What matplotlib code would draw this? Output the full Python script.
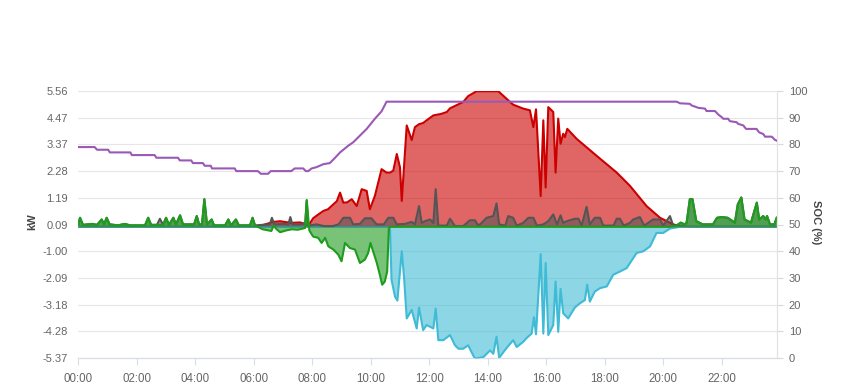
import matplotlib
matplotlib.use("Agg")
import matplotlib.pyplot as plt

# ---------------- data (hours of day, kW / %) ----------------
hours_ticks = [0, 2, 4, 6, 8, 10, 12, 14, 16, 18, 20, 22]
hour_labels = ["00:00", "02:00", "04:00", "06:00", "08:00", "10:00",
               "12:00", "14:00", "16:00", "18:00", "20:00", "22:00"]
kw_ticks = [5.56, 4.47, 3.37, 2.28, 1.19, 0.09, -1.00, -2.09, -3.18, -4.28, -5.37]
soc_ticks = [0, 10, 20, 30, 40, 50, 60, 70, 80, 90, 100]

# Solar production (red)
solar_t = [0, 6.08, 6.39, 6.66, 6.90, 7.27, 7.58, 7.75, 7.86, 8.03, 8.20, 8.38, 8.54, 8.72,
           8.84, 8.95, 9.06, 9.19, 9.35, 9.52, 9.69, 9.86, 9.97, 10.14, 10.37, 10.54, 10.66,
           10.77, 10.89, 11.00, 11.06, 11.23, 11.40, 11.51, 11.65, 11.79, 11.90, 12.14, 12.40,
           12.60, 12.71, 13.16, 13.33, 13.62, 14.36, 14.70, 14.87, 15.21, 15.44, 15.56, 15.65,
           15.81, 15.90, 15.98, 16.07, 16.24, 16.32, 16.41, 16.49, 16.58, 16.64, 16.72, 17.04,
           17.72, 18.41, 18.86, 19.43, 19.89, 20.34, 20.57, 20.91, 23.88]
solar_v = [0, 0, 0.1, 0.2, 0.23, 0.16, 0.18, 0.12, 0.03, 0.35, 0.5, 0.65, 0.72, 0.92,
           1.05, 1.4, 0.99, 1.0, 1.13, 0.85, 1.54, 1.47, 0.72, 1.26, 2.36, 2.22, 2.22,
           2.3, 2.98, 2.43, 1.06, 4.15, 3.55, 4.08, 4.2, 4.25, 4.35, 4.56, 4.62,
           4.7, 4.85, 5.11, 5.35, 5.55, 5.55, 5.18, 5.0, 4.84, 4.77, 4.08, 4.81,
           1.26, 4.36, 1.61, 4.9, 4.7, 2.22, 4.43, 3.4, 3.81, 3.67, 4.01, 3.6,
           2.91, 2.22, 1.68, 0.85, 0.37, 0.1, 0.03, 0, 0]

# Battery (cyan, negative = charging)
batt_t = [0, 10.62, 10.66, 10.71, 10.83, 10.91, 11.06, 11.14, 11.23, 11.40, 11.57, 11.65,
          11.79, 11.91, 12.14, 12.22, 12.31, 12.48, 12.71, 12.88, 13.00, 13.16, 13.33, 13.56,
          13.85, 14.08, 14.19, 14.30, 14.39, 14.65, 14.87, 14.99, 15.21, 15.33, 15.50, 15.58,
          15.65, 15.81, 15.90, 15.98, 16.07, 16.24, 16.32, 16.41, 16.49, 16.58, 16.75, 16.98,
          17.15, 17.32, 17.40, 17.49, 17.66, 17.84, 18.07, 18.29, 18.52, 18.75, 19.09, 19.32,
          19.55, 19.77, 20.00, 20.23, 20.57, 23.88]
batt_v = [0, 0, -0.1, -2.17, -2.86, -3.02, -1.0, -2.1, -3.75, -3.4, -4.16, -3.31,
          -4.23, -4.02, -4.16, -3.35, -4.64, -4.64, -4.43, -4.85, -4.99, -4.99, -4.85, -5.4,
          -5.33, -5.06, -5.2, -4.5, -5.36, -4.95, -4.64, -4.92, -4.71, -4.55, -4.37, -3.7,
          -4.4, -1.12, -4.37, -1.48, -4.43, -4.02, -2.24, -4.3, -2.54, -3.54, -3.75, -3.3,
          -3.13, -3.0, -2.37, -3.06, -2.65, -2.51, -2.44, -1.96, -1.83, -1.69, -1.07, -1.0,
          -0.8, -0.25, -0.25, -0.07, 0, 0]

# House load (grey)
load_t = [0, 0.06, 0.16, 0.47, 0.64, 0.80, 0.88, 0.97, 1.07, 1.36, 1.59, 1.77, 2.28, 2.39,
          2.49, 2.69, 2.79, 2.90, 3.00, 3.10, 3.25, 3.34, 3.48, 3.58, 3.96, 4.05, 4.13, 4.23,
          4.31, 4.40, 4.56, 4.64, 5.02, 5.13, 5.22, 5.39, 5.49, 5.87, 5.96, 6.04,
          6.30, 6.55, 6.62, 6.70, 7.00, 7.18, 7.25, 7.32, 7.60, 7.76, 7.81, 7.86, 8.15, 8.40,
          8.70, 8.90, 9.06, 9.29, 9.40, 9.63, 9.80, 10.02, 10.20, 10.45, 10.60, 10.77, 10.89,
          11.17, 11.40, 11.51, 11.65, 11.74, 11.85, 12.03, 12.14, 12.22, 12.31, 12.60, 12.71,
          12.88, 13.16, 13.39, 13.56, 13.68, 13.79, 13.96, 14.19, 14.30, 14.39, 14.60, 14.70,
          14.87, 14.99, 15.21, 15.39, 15.56, 15.68, 15.90, 16.07, 16.24, 16.37, 16.49, 16.58,
          16.70, 16.98, 17.10, 17.21, 17.38, 17.49, 17.66, 17.84, 17.95, 18.30, 18.41, 18.52,
          18.65, 18.86, 18.97, 19.20, 19.35, 19.65, 19.89, 20.00, 20.23, 20.34,
          20.45, 20.60, 20.73, 20.80, 20.91, 21.00, 21.13, 21.35, 21.70, 21.84, 22.00, 22.20,
          22.45, 22.55, 22.67, 22.78, 23.00, 23.20, 23.28, 23.42, 23.50, 23.55, 23.65, 23.80,
          23.88]
load_v = [0.1, 0.37, 0.08, 0.12, 0.08, 0.3, 0.1, 0.37, 0.1, 0.06, 0.12, 0.06, 0.06, 0.37,
          0.08, 0.08, 0.33, 0.08, 0.37, 0.08, 0.37, 0.1, 0.47, 0.1, 0.1, 0.44, 0.1, 0.1,
          1.13, 0.1, 0.3, 0.06, 0.06, 0.3, 0.06, 0.3, 0.06, 0.06, 0.37, 0.06,
          0.08, 0.1, 0.37, 0.1, 0.12, 0.1, 0.4, 0.1, 0.1, 0.15, 1.06, 0.05, 0.1, 0.03,
          0.03, 0.1, 0.37, 0.37, 0.1, 0.12, 0.35, 0.35, 0.1, 0.1, 0.37, 0.37, 0.1,
          0.12, 0.2, 0.1, 0.85, 0.16, 0.23, 0.3, 0.15, 1.54, 0.05, 0.05, 0.33,
          0.03, 0.03, 0.27, 0.27, 0.05, 0.16, 0.37, 0.44, 0.96, 0.1, 0.05, 0.44,
          0.37, 0.05, 0.16, 0.37, 0.37, 0.05, 0.1, 0.23, 0.51, 0.1, 0.47, 0.16,
          0.23, 0.33, 0.33, 0.05, 0.82, 0.1, 0.37, 0.37, 0.05, 0.05, 0.33, 0.33,
          0.05, 0.16, 0.3, 0.4, 0.05, 0.3, 0.3, 0.05, 0.44, 0.05,
          0.05, 0.17, 0.1, 0.17, 1.13, 1.13, 0.23, 0.1, 0.1, 0.37, 0.4, 0.37,
          0.17, 0.92, 1.2, 0.3, 0.17, 0.99, 0.3, 0.44, 0.3, 0.44, 0.1, 0.1,
          0.37]

# Grid exchange (green)
grid_t = [0, 0.06, 0.16, 0.47, 0.64, 0.80, 0.88, 0.97, 1.07, 1.36, 1.59, 1.77, 2.28, 2.39,
          2.49, 2.69, 2.79, 2.90, 3.00, 3.10, 3.25, 3.34, 3.48, 3.58, 3.96, 4.05, 4.13, 4.23,
          4.31, 4.40, 4.56, 4.64, 5.02, 5.13, 5.22, 5.39, 5.49, 5.87, 5.96, 6.04,
          6.30, 6.60, 6.68, 6.78, 6.90, 7.10, 7.30, 7.50, 7.75, 7.81, 7.90, 8.03, 8.20, 8.32,
          8.44, 8.55, 8.72, 8.89, 9.00, 9.12, 9.29, 9.46, 9.63, 9.80, 9.91, 9.99, 10.08, 10.20,
          10.31, 10.39, 10.48, 10.56, 10.62, 10.66, 20.20,
          20.45, 20.60, 20.73, 20.80, 20.91, 21.00, 21.13, 21.35, 21.70, 21.84, 22.00, 22.20,
          22.45, 22.55, 22.67, 22.78, 23.00, 23.20, 23.28, 23.42, 23.50, 23.55, 23.65, 23.80,
          23.88]
grid_v = [0.1, 0.37, 0.08, 0.12, 0.08, 0.3, 0.1, 0.37, 0.1, 0.06, 0.12, 0.06, 0.06, 0.37,
          0.08, 0.08, 0.08, 0.08, 0.37, 0.08, 0.37, 0.1, 0.47, 0.1, 0.1, 0.44, 0.1, 0.1,
          1.13, 0.1, 0.3, 0.06, 0.06, 0.3, 0.06, 0.3, 0.06, 0.06, 0.37, 0.06,
          -0.1, -0.17, 0.05, -0.1, -0.22, -0.15, -0.1, -0.12, -0.05, 1.1, -0.15, -0.4, -0.45, -0.66,
          -0.45, -0.8, -0.93, -1.14, -1.41, -0.66, -0.87, -0.93, -1.48, -1.34, -1.07, -0.66, -1.0, -1.45,
          -1.96, -2.37, -2.24, -1.83, -0.05, 0, 0,
          0.05, 0.17, 0.1, 0.17, 1.13, 1.13, 0.23, 0.1, 0.1, 0.37, 0.4, 0.37,
          0.17, 0.92, 1.2, 0.3, 0.17, 0.99, 0.3, 0.44, 0.3, 0.44, 0.1, 0.1,
          0.37]

# Battery state of charge (purple, right axis)
soc_t = [0, 0.56, 0.64, 1.02, 1.08, 1.78, 1.83, 2.61, 2.67, 3.41, 3.47, 3.86, 3.92, 4.26,
         4.32, 4.53, 4.57, 5.35, 5.40, 6.14, 6.24, 6.49, 6.58, 7.28, 7.40, 7.69, 7.78, 7.86,
         7.98, 8.15, 8.38, 8.60, 8.78, 8.95, 9.23, 9.40, 9.63, 9.86, 10.14, 10.37, 10.54,
         20.46, 20.57, 20.91, 20.97, 21.20, 21.43, 21.48, 21.77, 21.88, 22.00, 22.05, 22.22,
         22.28, 22.51, 22.56, 22.74, 22.83, 23.19, 23.28, 23.42, 23.48, 23.71, 23.82, 23.88]
soc_v = [79, 79, 78, 78, 77, 77, 76, 76, 75, 75, 74, 74, 73, 73,
         72, 72, 71, 71, 70, 70, 69, 69, 70, 70, 71, 71, 70, 70,
         71, 71.5, 72.6, 73, 75, 77, 79.5, 80.8, 83.3, 85.8, 89.6, 92.4, 96,
         96, 95.4, 95.2, 94.6, 93.7, 93.4, 92.5, 92.5, 91.2, 90.2, 89.6, 89.6,
         88.7, 88.3, 87.7, 87.1, 85.8, 85.8, 84.5, 83.9, 82.9, 82.9, 81.7, 81.4]

# ---------------- drawing ----------------
plt.rcParams['font.family'] = ['Liberation Sans', 'DejaVu Sans']

W, H = 849, 390
fig = plt.figure(figsize=(W / 100, H / 100), dpi=100)
left_px, right_px, top_px, bottom_px = 78.3, 777.0, 91.0, 358.0
ax = fig.add_axes([left_px / W, 1 - bottom_px / H, (right_px - left_px) / W, (bottom_px - top_px) / H])

ax.set_xlim(0, 23.89)
ax.set_ylim(-5.37, 5.56)

c_red = '#cc0000'
c_cyan = '#3fbbd6'
c_gray = '#555555'
c_green = '#1e9c1e'
c_purple = '#9b59b6'
lw = 1.5

ax.fill_between(solar_t, solar_v, 0, color=c_red, alpha=0.6, lw=0, zorder=2)
ax.plot(solar_t, solar_v, color=c_red, lw=lw, zorder=3)
ax.fill_between(batt_t, batt_v, 0, color=c_cyan, alpha=0.6, lw=0, zorder=4)
ax.plot(batt_t, batt_v, color=c_cyan, lw=lw, zorder=5)
ax.fill_between(load_t, load_v, 0, color=c_gray, alpha=0.55, lw=0, zorder=6)
ax.plot(load_t, load_v, color=c_gray, lw=lw, zorder=7)
ax.fill_between(grid_t, grid_v, 0, color=c_green, alpha=0.6, lw=0, zorder=8)
ax.plot(grid_t, grid_v, color=c_green, lw=lw, zorder=9)

# axes styling
ax.set_yticks(kw_ticks)
ax.set_yticklabels([f"{v:.2f}" for v in kw_ticks])
ax.set_xticks(hours_ticks)
ax.set_xticklabels(hour_labels)
ax.set_axisbelow(True)
ax.yaxis.grid(True, color='#e6e6e6', lw=0.8)
for s in ['left', 'top', 'right']:
    ax.spines[s].set_visible(False)
ax.spines['bottom'].set_color('#d8dde6')
ax.spines['bottom'].set_linewidth(0.9)
ax.tick_params(axis='y', length=0, pad=7.5, labelsize=8, labelcolor='#666666')
ax.tick_params(axis='x', length=5, width=0.8, color='#d8dde6', pad=6, labelsize=8.3,
               labelcolor='#666666')
ax.set_ylabel('kW', fontsize=8, fontweight='bold', color='#444444')
ax.yaxis.set_label_coords((37 - left_px) / (right_px - left_px), 0.51)

ax2 = ax.twinx()
ax2.set_ylim(0, 100)
ax2.plot(soc_t, soc_v, color=c_purple, lw=lw, zorder=10)
ax2.set_yticks(soc_ticks)
ax2.set_yticklabels([str(v) for v in soc_ticks])
for s in ['left', 'top', 'bottom']:
    ax2.spines[s].set_visible(False)
ax2.spines['right'].set_color('#e3e3e3')
ax2.spines['right'].set_linewidth(0.9)
ax2.tick_params(axis='y', length=4.5, width=0.8, color='#d8d8d8', pad=4, labelsize=8,
                labelcolor='#666666')
ax2.set_ylabel('SOC (%)', fontsize=8, fontweight='bold', color='#444444', rotation=270)
ax2.yaxis.set_label_coords((821 - left_px) / (right_px - left_px), 0.51)

fig.savefig('out.png', dpi=100)
